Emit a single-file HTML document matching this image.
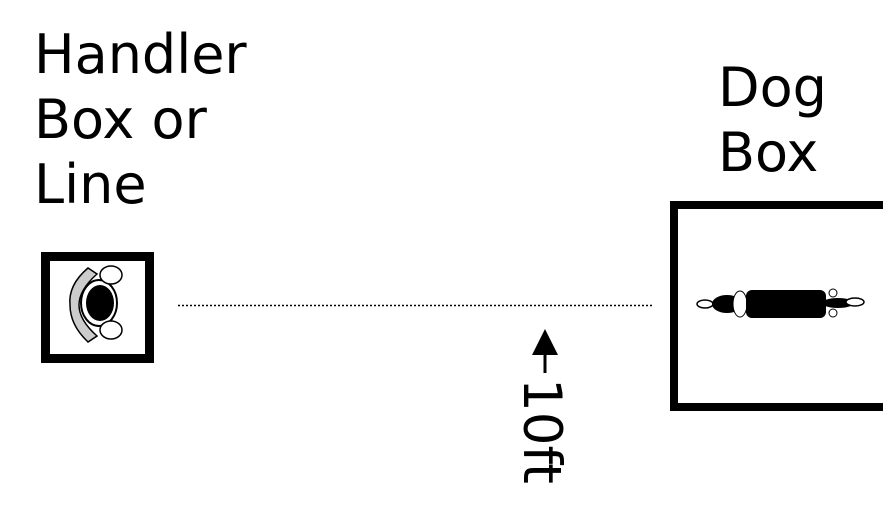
<!DOCTYPE html>
<html><head><style>
html,body{margin:0;padding:0;background:#fff;}
body{width:895px;height:529px;position:relative;overflow:hidden;font-family:"DejaVu Sans","Liberation Sans",sans-serif;}
.t{position:absolute;font-size:54px;line-height:65px;color:#000;}
</style></head><body>
<div class="t" style="left:34px;top:22px;">Handler<br>Box or<br>Line</div>
<div class="t" style="left:718px;top:55px;">Dog<br>Box</div>
<svg width="895" height="529" style="position:absolute;left:0;top:0">
  <rect x="45.5" y="256.5" width="104" height="102" fill="none" stroke="#000" stroke-width="9"/>
  <path d="M88 268 Q68 285 70 305 Q70 325 88 342 L97 336 Q79 320 79 305 Q79 290 97 274 Z" fill="#ccc" stroke="#000" stroke-width="1.5"/>
  <ellipse cx="99" cy="303" rx="18" ry="23" fill="#fff" stroke="#000" stroke-width="2"/>
  <ellipse cx="100" cy="303" rx="14" ry="18" fill="#000"/>
  <ellipse cx="111" cy="275" rx="11" ry="9" fill="#fff" stroke="#000" stroke-width="1.5"/>
  <ellipse cx="111" cy="330" rx="11" ry="9" fill="#fff" stroke="#000" stroke-width="1.5"/>
  <line x1="178" y1="305.5" x2="652" y2="305.5" stroke="#000" stroke-width="1.5" stroke-dasharray="2,2"/>
  <path d="M674 411 V205 H883 M674 407 H883" fill="none" stroke="#000" stroke-width="8"/>
  <ellipse cx="705" cy="304" rx="8" ry="4" fill="#fff" stroke="#000" stroke-width="1.5"/>
  <ellipse cx="727" cy="304" rx="15" ry="9" fill="#000"/>
  <ellipse cx="740" cy="304" rx="7" ry="13" fill="#fff" stroke="#000" stroke-width="1"/>
  <rect x="746" y="290" width="80" height="28" rx="6" fill="#000"/>
  <ellipse cx="838" cy="303" rx="16" ry="5" fill="#000"/>
  <ellipse cx="855" cy="302" rx="9" ry="4" fill="#fff" stroke="#000" stroke-width="1.5"/>
  <circle cx="833" cy="293" r="4" fill="#fff" stroke="#000" stroke-width="1"/>
  <circle cx="833" cy="313" r="4" fill="#fff" stroke="#000" stroke-width="1"/>
  <polygon points="545,329 532,355 558,355" fill="#000"/>
  <line x1="545" y1="354" x2="545" y2="373" stroke="#000" stroke-width="3"/>
</svg>
<div style="position:absolute;left:522px;top:378px;font-size:53px;line-height:53px;transform-origin:0 0;transform:translate(46px,0) rotate(90deg);white-space:nowrap;">10ft</div>
</body></html>
